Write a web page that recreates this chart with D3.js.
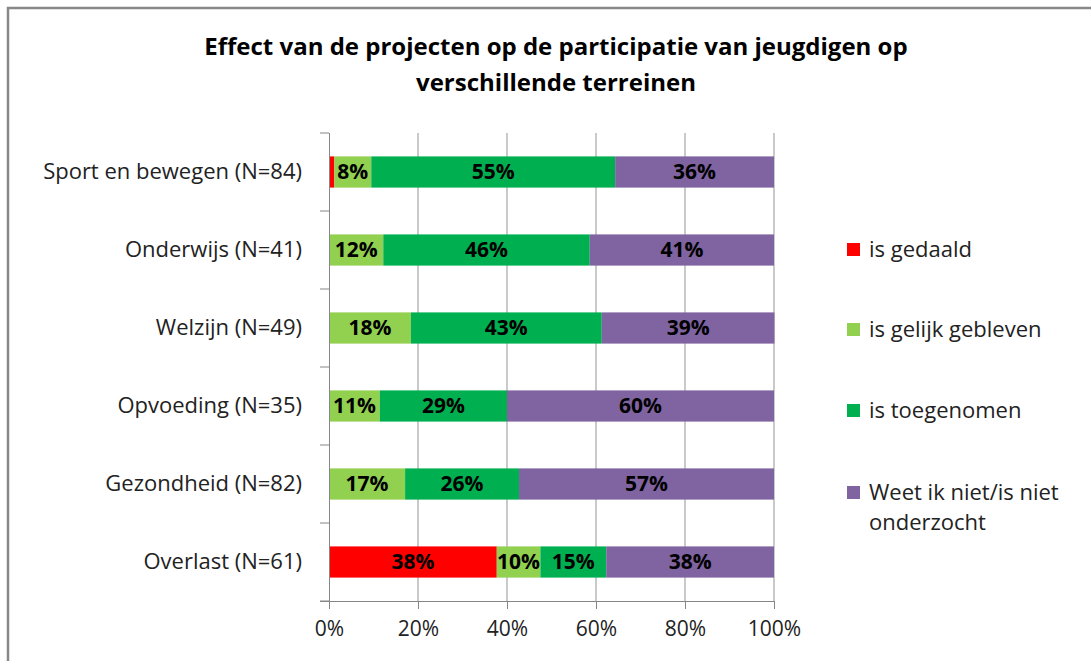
<!DOCTYPE html>
<html>
<head>
<meta charset="utf-8">
<script src="https://d3js.org/d3.v7.min.js"></script>
<style>
    body { margin: 0; background: #fff; }
    svg { display: block; font-family: "Open Sans", sans-serif; }
</style>
</head>
<body>
<div id="canvas"></div>

<script>
    const width = 1091;
    const height = 661;

    // Categories (top to bottom) and series values in percent
    const categories = [
        "Sport en bewegen (N=84)",
        "Onderwijs (N=41)",
        "Welzijn (N=49)",
        "Opvoeding (N=35)",
        "Gezondheid (N=82)",
        "Overlast (N=61)"
    ];
    const seriesNames = ["is gedaald", "is gelijk gebleven", "is toegenomen", "Weet ik niet/is niet onderzocht"];
    const gedaald = [1.2, 0, 0, 0, 0, 37.7];
    const gelijk = [8.3, 12.2, 18.4, 11.4, 17.1, 9.8];
    const toegenomen = [54.8, 46.4, 42.9, 28.6, 25.6, 14.8];
    const weetNiet = [35.7, 41.4, 38.8, 60.0, 57.3, 37.7];
    const xTicks = [0, 20, 40, 60, 80, 100];
    const colors = ["#ff0000", "#92d050", "#00b050", "#8064a2"];

    const rows = categories.map((c, i) => ({
        cat: c,
        "is gedaald": gedaald[i],
        "is gelijk gebleven": gelijk[i],
        "is toegenomen": toegenomen[i],
        "Weet ik niet/is niet onderzocht": weetNiet[i]
    }));

    const stacked = d3.stack().keys(seriesNames)(rows);

    const svg = d3.select("#canvas")
        .append("svg")
        .attr("width", width)
        .attr("height", height);

    // outer chart border
    svg.append("rect")
        .attr("x", 8)
        .attr("y", 8)
        .attr("width", width + 10)
        .attr("height", height + 10)
        .attr("fill", "none")
        .attr("stroke", "#888")
        .attr("stroke-width", 2.5);

    // title
    svg.append("text")
        .attr("x", 556)
        .attr("y", 55)
        .attr("text-anchor", "middle")
        .attr("font-size", 24)
        .attr("font-weight", "bold")
        .attr("fill", "#000")
        .selectAll("tspan")
        .data(["Effect van de projecten op de participatie van jeugdigen op", "verschillende terreinen"])
        .enter()
        .append("tspan")
        .attr("x", 556)
        .attr("dy", (d, i) => i === 0 ? 0 : 36)
        .text(d => d);

    const x = d3.scaleLinear().domain([0, 100]).range([329, 774]);
    const y = d3.scaleBand().domain(categories).range([133, 601]).paddingInner(0.6).paddingOuter(0.3);

    // gridlines
    svg.append("g")
        .selectAll("line")
        .data(xTicks.slice(1))
        .enter()
        .append("line")
        .attr("x1", d => x(d))
        .attr("x2", d => x(d))
        .attr("y1", 133)
        .attr("y2", 601)
        .attr("stroke", "#a6a6a6")
        .attr("stroke-width", 1.2);

    // bars
    svg.append("g")
        .selectAll("g")
        .data(stacked)
        .enter()
        .append("g")
        .attr("fill", (d, i) => colors[i])
        .selectAll("rect")
        .data(d => d)
        .enter()
        .append("rect")
        .attr("x", d => x(d[0]))
        .attr("y", d => y(d.data.cat))
        .attr("width", d => x(d[1]) - x(d[0]))
        .attr("height", y.bandwidth());

    // data labels
    const fmt = v => Math.round(v) + "%";
    svg.append("g")
        .selectAll("g")
        .data(stacked)
        .enter()
        .append("g")
        .selectAll("text")
        .data(d => d.filter(s => s[1] - s[0] >= 3))
        .enter()
        .append("text")
        .attr("x", d => (x(d[0]) + x(d[1])) / 2)
        .attr("y", d => y(d.data.cat) + y.bandwidth() / 2 + 7)
        .attr("text-anchor", "middle")
        .attr("font-size", 21)
        .attr("font-weight", "bold")
        .attr("fill", "#000")
        .text(d => fmt(d[1] - d[0]));

    // x axis
    const xAxis = svg.append("g")
        .attr("transform", "translate(0,601)")
        .call(d3.axisBottom(x).tickValues(xTicks).tickFormat(d => d + "%").tickSize(8).tickPadding(12));
    xAxis.select(".domain").attr("d", "M320,0.5H774").attr("stroke", "#868686");
    xAxis.selectAll(".tick line").attr("stroke", "#868686");
    xAxis.selectAll(".tick text").attr("font-size", 21).attr("fill", "#222").attr("font-family", "'Open Sans', sans-serif");

    // y axis
    const yAxis = svg.append("g")
        .attr("transform", "translate(329,0)")
        .call(d3.axisLeft(y).tickSize(0).tickPadding(27));
    yAxis.select(".domain").attr("d", "M0.5,133V601").attr("stroke", "#868686");
    yAxis.selectAll(".tick text").attr("font-size", 22).attr("fill", "#222").attr("font-family", "'Open Sans', sans-serif");

    // category separators on y axis
    svg.append("g")
        .selectAll("line")
        .data(d3.range(categories.length + 1))
        .enter()
        .append("line")
        .attr("x1", 320)
        .attr("x2", 329)
        .attr("y1", i => 133 + i * (468 / categories.length))
        .attr("y2", i => 133 + i * (468 / categories.length))
        .attr("stroke", "#868686");

    // legend
    const legendY = [249, 329, 410, 492];
    const legend = svg.append("g")
        .selectAll("g")
        .data(seriesNames)
        .enter()
        .append("g")
        .attr("transform", (d, i) => `translate(847,${legendY[i]})`);
    legend.append("rect")
        .attr("x", 0)
        .attr("y", -6)
        .attr("width", 13)
        .attr("height", 13)
        .attr("fill", (d, i) => colors[i]);
    legend.append("text")
        .attr("x", 22)
        .attr("y", 8)
        .attr("font-size", 22)
        .attr("fill", "#222")
        .selectAll("tspan")
        .data(d => d === seriesNames[3] ? ["Weet ik niet/is niet", "onderzocht"] : [d])
        .enter()
        .append("tspan")
        .attr("x", 22)
        .attr("dy", (d, i) => i === 0 ? 0 : 30)
        .text(d => d);
</script>
</body>
</html>
